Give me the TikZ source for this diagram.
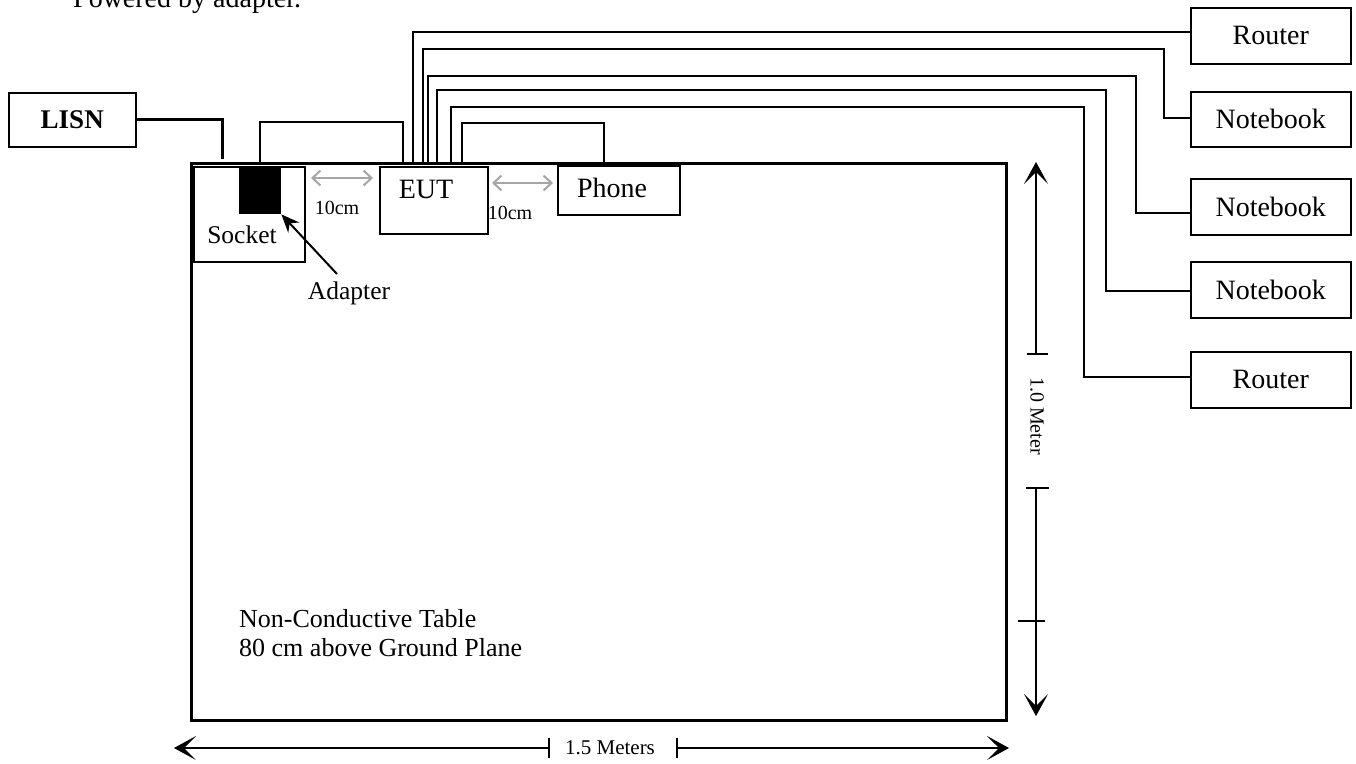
\documentclass[tikz,border=0pt]{standalone}
\usepackage{fontspec}
\setmainfont{Liberation Serif}
\usetikzlibrary{arrows.meta}
\begin{document}
\begin{tikzpicture}[x=1pt,y=-1pt,
  box/.style={draw, line width=1.5pt, inner sep=0pt, anchor=north west, font=\fontsize{28}{30}\selectfont},
  cable/.style={line width=1.5pt},
  lbl/.style={inner sep=0pt},
  gap/.style={draw=gray!70, line width=2pt, {Straight Barb[length=8pt,width=15pt]}-{Straight Barb[length=8pt,width=15pt]}},
  dimline/.style={line width=1.5pt},
  dimtip/.style={-{Stealth[length=22pt,width=24pt,inset=12pt,line width=1pt]}}
]
\clip (0,0) rectangle (1356,763);
\fill[white] (0,0) rectangle (1356,763);

% title
\node[lbl, anchor=base west, font=\fontsize{28}{30}\selectfont] (title) at (73,7) {Powered by adapter.};

% table
\node[draw, line width=3pt, inner sep=0pt, anchor=north west, minimum width=815pt, minimum height=557pt] (table) at (190,162) {};

% LISN
\node[box, minimum width=127pt, minimum height=54pt, font=\fontsize{27}{29}\selectfont\bfseries] (lisn) at (8,92) {LISN};
\coordinate (lisnend) at (222,159);
\draw[line width=3pt] (lisn.east) -| (lisnend);

% socket and adapter
\node[box, minimum width=111pt, minimum height=95pt] (socket) at (193,166) {};
\node[lbl, font=\fontsize{25.5}{27}\selectfont] (socketlbl) at (242,235) {Socket};
\node[fill=black, inner sep=0pt, anchor=north west, minimum width=42pt, minimum height=48pt] (adapter) at (239,166) {};
\node[lbl, font=\fontsize{25.5}{27}\selectfont] (adapterlbl) at (349,293) {Adapter};
\coordinate (adtail) at (337,274);
\draw[line width=2pt, -{Stealth[length=18pt,width=15pt]}] (adtail) -- (adapter.south east);

% EUT and phone
\node[box, minimum width=108pt, minimum height=67pt] (eut) at (379,166) {};
\node[lbl, font=\fontsize{28}{30}\selectfont] (eutlbl) at (426,189) {EUT};
\node[box, minimum width=122pt, minimum height=49pt] (phone) at (557,165) {};
\node[lbl, font=\fontsize{28}{30}\selectfont] (phonelbl) at (612,188) {Phone};

% 10 cm gaps
\coordinate (g1a) at (311,178); \coordinate (g1b) at (373,178);
\coordinate (g2a) at (492,183); \coordinate (g2b) at (553,183);
\draw[gap] (g1a) -- (g1b);
\draw[gap] (g2a) -- (g2b);
\node[lbl, font=\fontsize{20}{22}\selectfont] (gl1) at (337,208) {10cm};
\node[lbl, font=\fontsize{20}{22}\selectfont] (gl2) at (510,213) {10cm};

% peripherals
\node[box, minimum width=160pt, minimum height=56pt] (r1) at (1190,7) {Router};
\node[box, minimum width=160pt, minimum height=55pt] (n1) at (1190,91) {Notebook};
\node[box, minimum width=160pt, minimum height=56pt] (n2) at (1190,178) {Notebook};
\node[box, minimum width=160pt, minimum height=56pt] (n3) at (1190,261) {Notebook};
\node[box, minimum width=160pt, minimum height=56pt] (r2) at (1190,351) {Router};

% cables
\coordinate (s1) at (260,162); \coordinate (e0) at (403,162);
\draw[cable] (s1) -- (260,122) -| (e0);
\coordinate (e1) at (413,162);
\coordinate (e2) at (423,162);
\coordinate (e3) at (428,164);
\coordinate (e4) at (437,162);
\coordinate (e5) at (451,162);
\coordinate (e6) at (462,162); \coordinate (p0) at (604,162);
\draw[cable] (e1) |- (r1.west |- 0,32);
\draw[cable] (e2) |- (1164,49) |- (n1.west |- 0,118);
\draw[cable] (e3) |- (1136,76) |- (n2.west |- 0,213);
\draw[cable] (e4) |- (1106,90) |- (n3.west |- 0,291);
\draw[cable] (e5) |- (1084,107) |- (r2.west |- 0,377);
\draw[cable] (e6) -- (462,123) -| (p0);

% vertical dimension
\coordinate (vt) at (1036,162); \coordinate (vb1) at (1036,354);
\coordinate (vb2) at (1036,488); \coordinate (vbt) at (1036,716);
\draw[dimline, dimtip] (vb1) -- (vt);
\draw[dimline] (1027,354) -- (1048,354);
\draw[dimline, dimtip] (vb2) -- (vbt);
\draw[dimline] (1026,488) -- (1049,488);
\draw[dimline] (1018,621) -- (1045,621);
\node[lbl, rotate=-90, font=\fontsize{20}{22}\selectfont] (vlbl) at (1037,416) {1.0 Meter};

% horizontal dimension
\coordinate (hl) at (174,748); \coordinate (hb1) at (549,748);
\coordinate (hb2) at (677,748); \coordinate (hr) at (1009,748);
\draw[dimline, dimtip] (hb1) -- (hl);
\draw[dimline] (549,738) -- (549,758);
\draw[dimline, dimtip] (hb2) -- (hr);
\draw[dimline] (677,738) -- (677,758);
\node[lbl, font=\fontsize{21}{23}\selectfont] (hlbl) at (610,748) {1.5 Meters};

% table note
\node[lbl, anchor=west, align=left, font=\fontsize{26}{29}\selectfont] (note) at (239,633.5) {Non-Conductive Table\\80 cm above Ground Plane};
\end{tikzpicture}
\end{document}
